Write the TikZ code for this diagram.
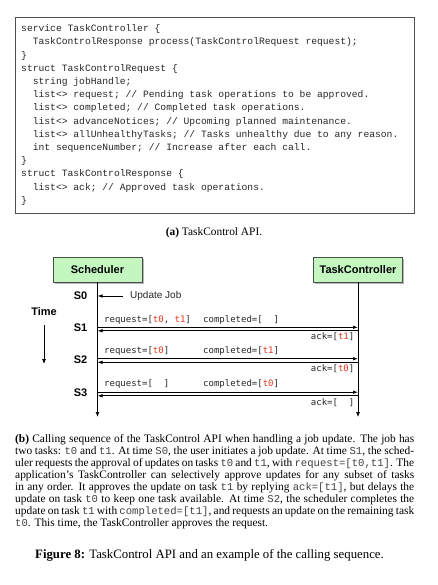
\documentclass[tikz,border=0pt]{standalone}
\usepackage{fontspec}
\setmainfont{Liberation Serif}
\newfontfamily\codefont{Liberation Mono}
\newfontfamily\dmono{DejaVu Sans Mono}
\newfontfamily\lsans{Liberation Sans}
\usetikzlibrary{arrows.meta,shadows}
\definecolor{boxgreen}{HTML}{C4F7C0}
\definecolor{tred}{HTML}{E8341C}
\definecolor{codeframe}{HTML}{505050}
\newcommand\cc[1]{{\codefont\fontsize{10.6bp}{12bp}\selectfont\color{black!75}#1}}
\newcommand\rd[1]{\textcolor{tred}{#1}}
\newcommand\twosp{\hphantom{xx}}
\tikzset{
  codeline/.style={anchor=west, inner sep=0pt, text height=6.5bp, text depth=2bp,
    font=\codefont\fontsize{9.67bp}{11bp}\selectfont, text=black!85},
  actor/.style={draw=black!70, fill=boxgreen, line width=0.6bp, minimum width=89bp,
    minimum height=25bp, inner sep=0pt, font=\lsans\bfseries\fontsize{11bp}{13bp}\selectfont,
    drop shadow={shadow xshift=1.5bp, shadow yshift=-1.5bp, fill=black!35, opacity=0.8}},
  slabel/.style={inner sep=0pt, font=\lsans\bfseries\fontsize{11bp}{13bp}\selectfont},
  msgtext/.style={inner sep=0pt, text height=6.5bp, text depth=2bp,
    font=\dmono\fontsize{9bp}{11bp}\selectfont, text=black!85},
  life/.style={line width=0.7bp, -{Latex[length=5bp,width=4bp]}},
  msg/.style={line width=0.7bp, -{Latex[length=5bp,width=3.5bp]}},
  capline/.style={anchor=west, inner sep=0pt, text height=7bp, text depth=2.5bp,
    font=\fontsize{11.4bp}{12bp}\selectfont},
}
\begin{document}
\begin{tikzpicture}[x=1bp,y=-1bp]
\useasboundingbox (0,0) rectangle (438,585);
% ---- code box
\node[draw=codeframe, line width=0.8bp, minimum width=399bp, minimum height=196bp, inner sep=0pt, anchor=north west] (codebox) at (15,17) {};
\node[codeline] (c1) at (21,29.5) {service TaskController \{};
\node[codeline] (c2) at (21,42.7) {\twosp TaskControlResponse process(TaskControlRequest request);};
\node[codeline] (c3) at (21,55.9) {\}};
\node[codeline] (c4) at (21,69.1) {struct TaskControlRequest \{};
\node[codeline] (c5) at (21,82.3) {\twosp string jobHandle;};
\node[codeline] (c6) at (21,95.5) {\twosp list<> request; // Pending task operations to be approved.};
\node[codeline] (c7) at (21,108.7) {\twosp list<> completed; // Completed task operations.};
\node[codeline] (c8) at (21,121.9) {\twosp list<> advanceNotices; // Upcoming planned maintenance.};
\node[codeline] (c9) at (21,135.1) {\twosp list<> allUnhealthyTasks; // Tasks unhealthy due to any reason.};
\node[codeline] (c10) at (21,148.3) {\twosp int sequenceNumber; // Increase after each call.};
\node[codeline] (c11) at (21,161.5) {\}};
\node[codeline] (c12) at (21,174.7) {struct TaskControlResponse \{};
\node[codeline] (c13) at (21,187.9) {\twosp list<> ack; // Approved task operations.};
\node[codeline] (c14) at (21,201.1) {\}};
% ---- caption (a)
\node[capline, anchor=center] (capa) at (214,233.5) {\textbf{(a)} TaskControl API.};
% ---- sequence diagram
\node[actor] (sch) at (97.5,269.5) {Scheduler};
\node[actor] (tc) at (358,269.5) {TaskController};
\coordinate (schend) at (sch.south |- 0,417);
\coordinate (tcend) at (tc.south |- 0,417);
\draw[life] (sch.south) -- (schend);
\draw[life] (tc.south) -- (tcend);
\node[slabel] (S0) at (80.5,296) {S0};
\node[slabel] (S1) at (80.5,328) {S1};
\node[slabel] (S2) at (80.5,359.5) {S2};
\node[slabel] (S3) at (80.5,393) {S3};
\node[slabel] (time) at (44,312) {Time};
\coordinate (tstart) at (44,325);
\coordinate (tend) at (44,364);
\draw[life] (tstart) -- (tend);
\node[anchor=west, inner sep=0pt, font=\lsans\fontsize{10bp}{12bp}\selectfont, text=black!85] (upd) at (130,296) {Update Job};
\coordinate (updstart) at (123,296);
\coordinate (updend) at (sch.south |- 0,296);
\draw[msg] (updstart) -- (updend);
% S1
\coordinate (s1r) at (sch.south |- 0,327.3);
\coordinate (s1l) at (tc.south |- 0,330.8);
\draw[msg] (s1r) -- (s1r -| tc.south);
\draw[msg] (s1l) -- (s1l -| sch.south);
\node[msgtext, anchor=west] (rq1) at (104,320) {request=[\rd{t0}, \rd{t1}]};
\node[msgtext, anchor=west] (cp1) at (203,320) {completed=[\twosp]};
\node[msgtext, anchor=east] (ak1) at (354.5,337.5) {ack=[\rd{t1}]};
% S2
\coordinate (s2r) at (sch.south |- 0,358.7);
\coordinate (s2l) at (tc.south |- 0,362.3);
\draw[msg] (s2r) -- (s2r -| tc.south);
\draw[msg] (s2l) -- (s2l -| sch.south);
\node[msgtext, anchor=west] (rq2) at (104,351.5) {request=[\rd{t0}]};
\node[msgtext, anchor=west] (cp2) at (203,351.5) {completed=[\rd{t1}]};
\node[msgtext, anchor=east] (ak2) at (354.5,369.5) {ack=[\rd{t0}]};
% S3
\coordinate (s3r) at (sch.south |- 0,392.2);
\coordinate (s3l) at (tc.south |- 0,395.8);
\draw[msg] (s3r) -- (s3r -| tc.south);
\draw[msg] (s3l) -- (s3l -| sch.south);
\node[msgtext, anchor=west] (rq3) at (104,384.5) {request=[\twosp]};
\node[msgtext, anchor=west] (cp3) at (203,384.5) {completed=[\rd{t0}]};
\node[msgtext, anchor=east] (ak3) at (354.5,403) {ack=[\twosp]};
% ---- caption (b)
\node[capline] (b1) at (15,440) {\makebox[399bp][s]{\textbf{(b)} Calling sequence of the TaskControl API when handling a job update. The job has}};
\node[capline] (b2) at (15,452) {\makebox[399bp][s]{two tasks: \cc{t0} and \cc{t1}. At time \cc{S0}, the user initiates a job update. At time \cc{S1}, the sched-}};
\node[capline] (b3) at (15,464) {\makebox[399bp][s]{uler requests the approval of updates on tasks \cc{t0} and \cc{t1}, with \cc{request=[t0,t1]}. The}};
\node[capline] (b4) at (15,476) {\makebox[399bp][s]{application's TaskController can selectively approve updates for any subset of tasks}};
\node[capline] (b5) at (15,488) {\makebox[399bp][s]{in any order. It approves the update on task \cc{t1} by replying \cc{ack=[t1]}, but delays the}};
\node[capline] (b6) at (15,500) {\makebox[399bp][s]{update on task \cc{t0} to keep one task available. At time \cc{S2}, the scheduler completes the}};
\node[capline] (b7) at (15,512) {\makebox[399bp][s]{update on task \cc{t1} with \cc{completed=[t1]}, and requests an update on the remaining task}};
\node[capline] (b8) at (15,524) {\cc{t0}. This time, the TaskController approves the request.};
% ---- figure caption
\node[inner sep=0pt, font=\fontsize{12.8bp}{14bp}\selectfont] (fig) at (209.5,555) {\textbf{Figure 8:} TaskControl API and an example of the calling sequence.};
\end{tikzpicture}
\end{document}
